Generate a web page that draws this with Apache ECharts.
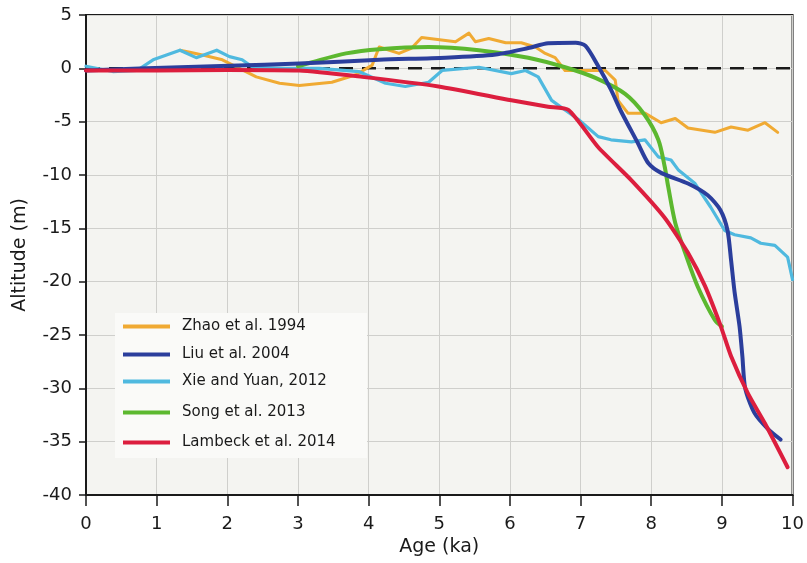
<!DOCTYPE html>
<html>
<head>
<meta charset="utf-8">
<script src="https://cdn.jsdelivr.net/npm/echarts@6/dist/echarts.min.js"></script>
<style>
html,body{margin:0;padding:0;background:#fff;}
#chart{width:807px;height:563px;}
</style>
</head>
<body>
<div id="chart"></div>
<script>
// ---- data ----
const seriesNames = ['Zhao et al. 1994', 'Liu et al. 2004', 'Xie and Yuan, 2012', 'Song et al. 2013', 'Lambeck et al. 2014'];

const zhaoAge = [1.33,1.47,1.68,1.93,2.41,2.74,3.02,3.48,3.82,4.05,4.15,4.43,4.61,4.75,5.23,5.42,5.51,5.70,5.94,6.16,6.36,6.50,6.64,6.78,7.07,7.35,7.49,7.53,7.67,7.91,8.14,8.34,8.52,8.90,9.13,9.37,9.61,9.79];
const zhaoAlt = [1.7,1.5,1.2,0.8,-0.8,-1.4,-1.6,-1.3,-0.6,0.3,2.0,1.4,1.9,2.9,2.5,3.3,2.5,2.8,2.4,2.4,2.0,1.4,1.0,-0.2,-0.2,-0.2,-1.1,-3.0,-4.2,-4.2,-5.1,-4.7,-5.6,-6.0,-5.5,-5.8,-5.1,-6.0];

const liuAge = [0,0.86,2.03,3.02,4.15,5.09,5.80,6.26,6.54,6.93,7.07,7.25,7.43,7.57,7.81,7.96,8.14,8.52,8.80,8.98,9.08,9.13,9.18,9.25,9.29,9.33,9.46,9.65,9.83];
const liuAlt = [-0.2,0.0,0.25,0.45,0.8,1.0,1.3,1.9,2.35,2.4,2.1,0.2,-2.0,-4.0,-7.0,-8.9,-9.8,-10.8,-11.9,-13.3,-15.2,-18.0,-21.0,-24.2,-27.0,-30.0,-32.3,-33.8,-34.8];

const xieAge = [0,0.38,0.72,0.95,1.33,1.56,1.85,2.03,2.21,2.36,2.8,3.3,3.86,4.24,4.52,4.85,5.04,5.56,6.02,6.22,6.40,6.59,6.78,6.97,7.25,7.43,7.72,7.91,8.10,8.28,8.38,8.62,8.84,9.04,9.18,9.41,9.55,9.75,9.93,10.0];
const xieAlt = [0.2,-0.3,-0.2,0.8,1.7,1.0,1.7,1.1,0.8,0.1,0.0,0.0,-0.3,-1.4,-1.7,-1.3,-0.2,0.1,-0.5,-0.2,-0.8,-3.0,-3.9,-4.8,-6.4,-6.7,-6.9,-6.7,-8.3,-8.6,-9.5,-10.8,-13.0,-15.2,-15.6,-15.9,-16.4,-16.6,-17.7,-19.8];

const songAge = [3.0,3.16,3.68,4.15,4.85,5.56,6.26,6.78,7.21,7.63,7.91,8.10,8.19,8.24,8.34,8.48,8.66,8.90,9.0];
const songAlt = [0.2,0.5,1.4,1.8,2.0,1.7,1.0,0.1,-0.9,-2.4,-4.4,-6.7,-9.2,-11.1,-14.5,-17.3,-20.5,-23.6,-24.2];

const lambeckAge = [0,1.0,2.0,3.02,3.91,4.99,6.02,6.54,6.83,7.25,7.72,8.19,8.52,8.76,8.98,9.13,9.37,9.61,9.93];
const lambeckAlt = [-0.2,-0.2,-0.15,-0.2,-0.8,-1.7,-3.0,-3.6,-3.9,-7.4,-10.5,-14.0,-17.3,-20.4,-24.1,-27.0,-30.5,-33.3,-37.4];

const zeroLineAge = [0, 10];
const zeroLineAlt = [0, 0];

const xTicks = {min: 0, max: 10, step: 1};
const yTicks = {min: -40, max: 5, step: 5};

// ---- build ----
const zip = (a, b) => a.map((v, i) => [v, b[i]]);
const colors = ['#f0aa33', '#2b3e9c', '#4fb9df', '#5cb82f', '#dc1e3e'];
const FONT = 'DejaVu Sans';

const chart = echarts.init(document.getElementById('chart'), null, {renderer: 'canvas'});

const legendTops = [328, 356, 383, 414, 444];
const legends = seriesNames.map((n, i) => ({
  data: [n],
  left: 123,
  top: legendTops[i] - 9,
  padding: 0,
  icon: 'rect',
  itemWidth: 47,
  itemHeight: 4,
  selectedMode: false,
  textStyle: {fontFamily: FONT, fontSize: 15, color: '#1a1a1a', padding: [0, 0, 0, 7]}
}));

const lineSeries = (name, data, color, width, smooth) => ({
  name, type: 'line', data, showSymbol: false, symbol: 'none',
  smooth, color,
  lineStyle: {color, width, cap: 'round', join: 'round'},
  z: 3
});

chart.setOption({
  animation: false,
  backgroundColor: '#ffffff',
  grid: {left: 86, right: 11, top: 15, bottom: 68, show: true, backgroundColor: '#f4f4f1', borderColor: '#1a1a1a', borderWidth: 2},
  legend: legends,
  graphic: [{
    type: 'rect', z: 1,
    shape: {x: 115, y: 313, width: 252, height: 145},
    style: {fill: '#fafaf8'}
  }],
  xAxis: {
    type: 'value', min: xTicks.min, max: xTicks.max, interval: xTicks.step,
    name: 'Age (ka)', nameLocation: 'middle', nameGap: 41,
    nameTextStyle: {fontFamily: FONT, fontSize: 19, color: '#1a1a1a'},
    axisLine: {show: true, onZero: false, lineStyle: {color: '#1a1a1a', width: 2}},
    axisTick: {show: true, inside: false, length: 11, lineStyle: {color: '#1a1a1a', width: 1.5}},
    axisLabel: {fontFamily: FONT, fontSize: 18, color: '#1a1a1a', margin: 20},
    splitLine: {show: true, lineStyle: {color: '#cfcfcc', width: 1}}
  },
  yAxis: {
    type: 'value', min: yTicks.min, max: yTicks.max, interval: yTicks.step,
    name: 'Altitude (m)', nameLocation: 'middle', nameGap: 56, nameRotate: 90,
    nameTextStyle: {fontFamily: FONT, fontSize: 19, color: '#1a1a1a'},
    axisLine: {show: true, onZero: false, lineStyle: {color: '#1a1a1a', width: 2}},
    axisTick: {show: true, inside: false, length: 7, lineStyle: {color: '#1a1a1a', width: 1.5}},
    axisLabel: {fontFamily: FONT, fontSize: 18, color: '#1a1a1a', margin: 14},
    splitLine: {show: true, lineStyle: {color: '#cfcfcc', width: 1}}
  },
  series: [
    {type: 'line', data: zip(zeroLineAge, zeroLineAlt), symbol: 'none', silent: true,
     lineStyle: {color: '#1a1a1a', width: 2.5, type: [14, 9]}, z: 2},
    lineSeries(seriesNames[0], zip(zhaoAge, zhaoAlt), colors[0], 3, false),
    lineSeries(seriesNames[2], zip(xieAge, xieAlt), colors[2], 3.2, false),
    lineSeries(seriesNames[3], zip(songAge, songAlt), colors[3], 4, 0.3),
    lineSeries(seriesNames[1], zip(liuAge, liuAlt), colors[1], 4, 0.25),
    lineSeries(seriesNames[4], zip(lambeckAge, lambeckAlt), colors[4], 4, 0.2)
  ]
});
</script>
</body>
</html>
